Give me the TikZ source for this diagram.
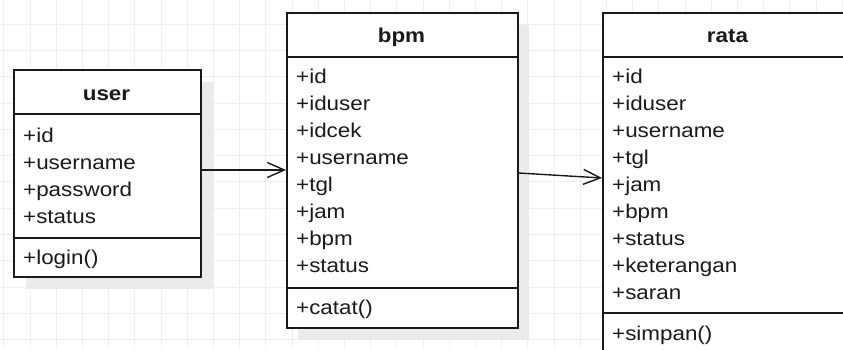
\documentclass[tikz,border=0pt]{standalone}
\usepackage{fontspec}
\setmainfont[FakeStretch=1.12]{Liberation Sans}
\usetikzlibrary{arrows.meta}
\definecolor{gridc}{HTML}{EFEFEF}
\definecolor{shadowc}{HTML}{EBEBEB}
\definecolor{ink}{HTML}{1A1A1A}
\tikzset{
  classbox/.style={draw=ink, line width=1.8pt, fill=white, inner sep=0pt, anchor=north west},
  shadowbox/.style={fill=shadowc, draw=none, inner sep=0pt, anchor=north west},
  sepline/.style={draw=ink, line width=1.6pt},
  attr/.style={anchor=base west, inner sep=0pt, font=\fontsize{20}{24}\selectfont, text=ink},
  hdr/.style={anchor=base, inner sep=0pt, font=\fontsize{20}{24}\selectfont\bfseries, text=ink},
  assoc/.style={draw=ink, line width=1.4pt, -{Straight Barb[length=17pt,width=15pt,line width=1.4pt]}},
}
\begin{document}
\begin{tikzpicture}[x=1pt,y=-1pt]
\useasboundingbox (0,0) rectangle (843,349);
\clip (0,0) rectangle (843,349);
\fill[white] (0,0) rectangle (843,349);
% grid
\foreach \k in {-1,...,31} \draw[gridc, line width=0.8pt] ({30+26.2*\k},0) -- ({30+26.2*\k},349);
\foreach \k in {-1,...,12} \draw[gridc, line width=0.8pt] (0,{24+26.3*\k}) -- (843,{24+26.3*\k});
% shadows
\node[shadowbox, minimum width=187pt, minimum height=207pt] (ush) at (26,82) {};
\node[shadowbox, minimum width=231pt, minimum height=315pt] (bsh) at (298,25) {};
\node[shadowbox, minimum width=251pt, minimum height=380pt] (rsh) at (614,25) {};
% boxes
\node[classbox, minimum width=187pt, minimum height=207pt] (user) at (13,69) {};
\node[classbox, minimum width=231pt, minimum height=315pt] (bpm) at (286,12) {};
\node[classbox, minimum width=251pt, minimum height=380pt] (rata) at (602,12) {};
% separators
\draw[sepline] (user.west |- 0,114) -- (user.east |- 0,114);
\draw[sepline] (user.west |- 0,238) -- (user.east |- 0,238);
\draw[sepline] (bpm.west |- 0,57) -- (bpm.east |- 0,57);
\draw[sepline] (bpm.west |- 0,288) -- (bpm.east |- 0,288);
\draw[sepline] (rata.west |- 0,57) -- (rata.east |- 0,57);
\draw[sepline] (rata.west |- 0,313) -- (rata.east |- 0,313);
% user texts
\node[hdr] (uh) at (106.5,100) {user};
\node[attr] (u1) at (23,142) {+id};
\node[attr] (u2) at (23,169) {+username};
\node[attr] (u3) at (23,196) {+password};
\node[attr] (u4) at (23,223) {+status};
\node[attr] (u5) at (23,264) {+login()};
% bpm texts
\node[hdr] (bh) at (401.5,42) {bpm};
\node[attr] (b1) at (296,83) {+id};
\node[attr] (b2) at (296,110) {+iduser};
\node[attr] (b3) at (296,137) {+idcek};
\node[attr] (b4) at (296,164) {+username};
\node[attr] (b5) at (296,191) {+tgl};
\node[attr] (b6) at (296,218) {+jam};
\node[attr] (b7) at (296,245) {+bpm};
\node[attr] (b8) at (296,272) {+status};
\node[attr] (b9) at (296,314) {+catat()};
% rata texts
\node[hdr] (rh) at (727.5,42) {rata};
\node[attr] (r1) at (612,83) {+id};
\node[attr] (r2) at (612,110) {+iduser};
\node[attr] (r3) at (612,137) {+username};
\node[attr] (r4) at (612,164) {+tgl};
\node[attr] (r5) at (612,191) {+jam};
\node[attr] (r6) at (612,218) {+bpm};
\node[attr] (r7) at (612,245) {+status};
\node[attr] (r8) at (612,272) {+keterangan};
\node[attr] (r9) at (612,299) {+saran};
\node[attr] (r10) at (612,340) {+simpan()};
% connectors
\draw[assoc] (user.east |- 0,170) -- (bpm.west |- 0,170);
\draw[assoc] (bpm.east |- 0,173) -- (rata.west |- 0,178);
\end{tikzpicture}
\end{document}
